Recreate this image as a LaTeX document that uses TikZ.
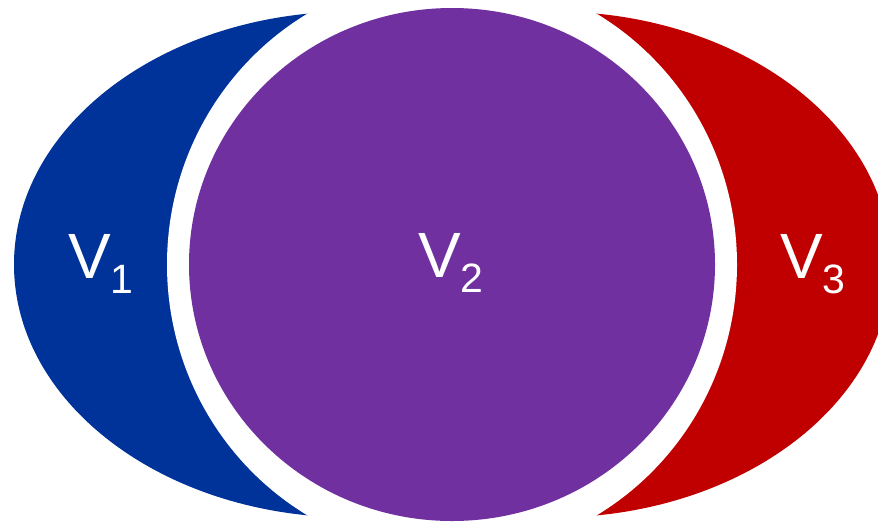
\documentclass[tikz,border=0pt]{standalone}
\usepackage{fontspec}
\setmainfont{Liberation Sans}
\definecolor{vblue}{RGB}{0,51,153}
\definecolor{vpurple}{RGB}{112,48,160}
\definecolor{vred}{RGB}{192,0,0}
\newcommand{\vlabel}[1]{\fontsize{64}{64}\selectfont V\raisebox{-15pt}{\fontsize{41}{41}\selectfont #1}}
\tikzset{vtext/.style={text=white, inner sep=0pt, outer sep=0pt, anchor=base west}}
\begin{document}
\begin{tikzpicture}[x=1pt,y=-1pt]
\useasboundingbox (0,0) rectangle (878,523);
\clip (0,0) rectangle (878,523);
\fill[vblue] (352,264.5) ellipse [x radius=338pt, y radius=253pt];
\fill[vred] (553,264.5) ellipse [x radius=338pt, y radius=253pt];
\fill[white] (452,264.5) ellipse [x radius=285pt, y radius=291pt];
\fill[vpurple] (452,264.5) ellipse [x radius=263pt, y radius=256.5pt];
\node[vtext] (v1) at (68,278) {\vlabel{1}};
\node[vtext] (v2) at (418,277) {\vlabel{2}};
\node[vtext] (v3) at (780,278) {\vlabel{3}};
\end{tikzpicture}
\end{document}
